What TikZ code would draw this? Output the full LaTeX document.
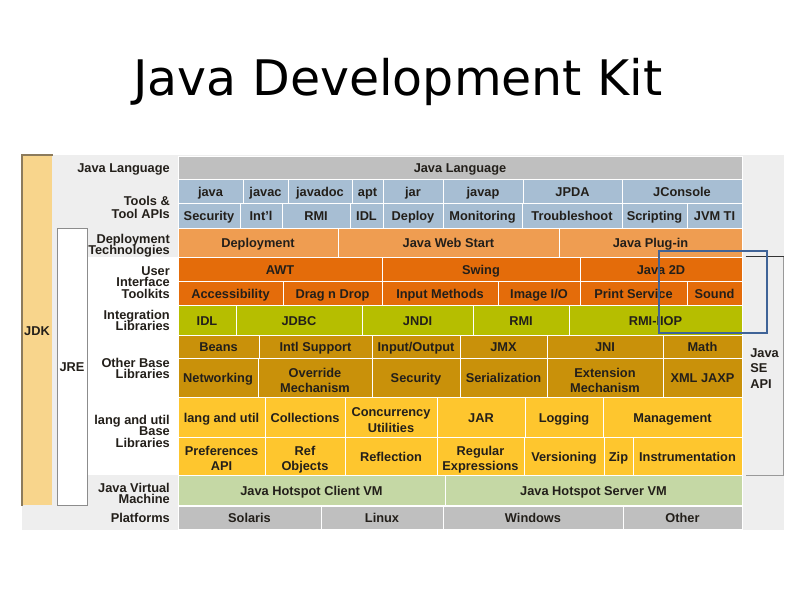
\documentclass[tikz,border=0pt]{standalone}
\usepackage{fontspec}
\setmainfont{Liberation Sans}
\newfontfamily\titlefont{DejaVu Sans}
\lineskiplimit=-20pt

\definecolor{ink}{HTML}{231F1A}
\definecolor{panel}{HTML}{EEEEEE}
\definecolor{langgrey}{HTML}{BFBFBF}
\definecolor{tools}{HTML}{A7BED3}
\definecolor{deploy}{HTML}{EF9D51}
\definecolor{uikit}{HTML}{E46C0A}
\definecolor{integ}{HTML}{B6BE00}
\definecolor{other}{HTML}{C9910A}
\definecolor{base}{HTML}{FEC62E}
\definecolor{jvm}{HTML}{C5D8A5}
\definecolor{jdk}{HTML}{F8D58C}
\definecolor{jdkline}{HTML}{8C7B5C}
\definecolor{markblue}{HTML}{3F6397}

\tikzset{
  cell/.style={draw=white, line width=1pt, inner sep=0pt, text=ink, align=center,
    font=\bfseries\fontsize{12.8}{15.5}\selectfont,
    execute at begin node={\rule[-3.5pt]{0pt}{17.8pt}}},
  lbl/.style={anchor=east, align=right, inner sep=0pt, text=ink,
    font=\bfseries\fontsize{12.8}{11.5}\selectfont,
    execute at begin node={\rule[-3.5pt]{0pt}{17.8pt}}},
}

\begin{document}
\begin{tikzpicture}[x=1pt,y=-1pt]
  \useasboundingbox (0,0) rectangle (800,600);
  \node[font=\titlefont\fontsize{49}{58}\selectfont, anchor=base] (title) at (398,95) {Java Development Kit};

  % background
  \fill[panel] (22,155) rectangle (784,530);
  \fill[white] (87,257) rectangle (178,475);

  % JDK and JRE columns
  \node[cell, draw=none, fill=jdk, minimum width=30pt, minimum height=350pt] (jdk) at (37,330) {JDK};
  \draw[jdkline, line width=2pt] (jdk.south west) -- (jdk.north west) -- (jdk.north east);
  \node[cell, draw=black!45, line width=0.8pt, fill=white, minimum width=30pt, minimum height=277pt] (jre) at (72,366.5) {JRE};

  % Java SE API
  \node[cell, draw=none, align=left, minimum width=37pt, minimum height=218pt] (seapi) at (764.5,366) {\rule{0pt}{17.3pt}Java\\SE\\API};
  \draw[black!80, line width=1.5pt] (seapi.north west) -- (seapi.north east);
  \draw[black!40, line width=0.8pt] (seapi.north east) -- (seapi.south east) -- (seapi.south west);

  % row labels
  \node[lbl] (lblLang) at (170,167.2) {Java Language};
  \node[lbl] (lblTools) at (170,208.8) {Tools \&\\[1.5pt]Tool APIs};
  \node[lbl] (lblDeploy) at (170,246.3) {Deployment\\Technologies};
  \node[lbl] (lblUI) at (170,284.3) {User\\Interface\\Toolkits};
  \node[lbl] (lblInteg) at (170,322) {Integration\\Libraries};
  \node[lbl] (lblOther) at (170,370) {Other Base\\Libraries};
  \node[lbl] (lblBase) at (170,433) {lang and util\\Base\\Libraries};
  \node[lbl] (lblJVM) at (170,495) {Java Virtual\\Machine};
  \node[lbl] (lblPlat) at (170,517.2) {Platforms};

  % java language
  \node[cell, fill=langgrey, minimum width=564pt, minimum height=23pt] (javalang) at (460,167.5) {Java Language};

  % tools
  \foreach \a/\b/\n/\t in {178/243/java/java, 243/288/javac/javac, 288/352/javadoc/javadoc, 352/383/apt/apt,
      383/443/jar/jar, 443/523/javap/javap, 523/622/jpda/JPDA, 622/742/jconsole/JConsole}
    \node[cell, fill=tools, minimum width={(\b-\a)*1pt}, minimum height=24pt] (\n) at ({(\a+\b)/2},191) {\t};
  \foreach \a/\b/\n/\t in {178/240/security/Security, 240/282/intl/Int'l, 282/350/rmitool/RMI, 350/383/idltool/IDL,
      383/443/deploytool/Deploy, 443/522/monitor/Monitoring, 522/622/trouble/Troubleshoot,
      622/687/script/Scripting, 687/742/jvmti/{JVM TI}}
    \node[cell, fill=tools, minimum width={(\b-\a)*1pt}, minimum height=25pt] (\n) at ({(\a+\b)/2},215.5) {\t};

  % deployment
  \foreach \a/\b/\n/\t in {178/338/deployment/Deployment, 338/559/webstart/{Java Web Start}, 559/742/plugin/{Java Plug-in}}
    \node[cell, fill=deploy, minimum width={(\b-\a)*1pt}, minimum height=29pt] (\n) at ({(\a+\b)/2},242.5) {\t};

  % user interface toolkits
  \foreach \a/\b/\n/\t in {178/382/awt/AWT, 382/580/swing/Swing, 580/742/java2d/{Java 2D}}
    \node[cell, fill=uikit, minimum width={(\b-\a)*1pt}, minimum height=24pt] (\n) at ({(\a+\b)/2},269) {\t};
  \foreach \a/\b/\n/\t in {178/283/access/Accessibility, 283/382/dnd/{Drag n Drop}, 382/498/inputm/{Input Methods},
      498/580/imageio/{Image I/O}, 580/687/print/{Print Service}, 687/742/sound/Sound}
    \node[cell, fill=uikit, minimum width={(\b-\a)*1pt}, minimum height=24pt] (\n) at ({(\a+\b)/2},293) {\t};

  % integration
  \foreach \a/\b/\n/\t in {178/236/idl/IDL, 236/362/jdbc/JDBC, 362/473/jndi/JNDI, 473/569/rmi/RMI, 569/742/rmiiiop/RMI-IIOP}
    \node[cell, fill=integ, minimum width={(\b-\a)*1pt}, minimum height=30pt] (\n) at ({(\a+\b)/2},320) {\t};

  % other base
  \foreach \a/\b/\n/\t in {178/259/beans/Beans, 259/372/intlsup/{Intl Support}, 372/460/io/{Input/Output},
      460/547/jmx/JMX, 547/663/jni/JNI, 663/742/math/Math}
    \node[cell, fill=other, minimum width={(\b-\a)*1pt}, minimum height=23pt] (\n) at ({(\a+\b)/2},346.5) {\t};
  \foreach \a/\b/\n/\t in {178/258/network/Networking, 258/372/override/{\rule{0pt}{18.8pt}Override\\Mechanism},
      372/460/secbase/Security, 460/547/serial/Serialization,
      547/663/extension/{\rule{0pt}{18.8pt}Extension\\Mechanism}, 663/742/xml/{XML JAXP}}
    \node[cell, fill=other, minimum width={(\b-\a)*1pt}, minimum height=39pt] (\n) at ({(\a+\b)/2},377.5) {\t};

  % lang and util
  \foreach \a/\b/\n/\t in {178/265/langutil/{lang and util}, 265/345/collect/Collections,
      345/437/concur/{\rule{0pt}{18.3pt}Concurrency\\Utilities},
      437/525/jarbase/JAR, 525/603/logging/Logging, 603/742/mgmt/Management}
    \node[cell, fill=base, minimum width={(\b-\a)*1pt}, minimum height=40pt] (\n) at ({(\a+\b)/2},417) {\t};
  \foreach \a/\b/\n/\t in {178/265/prefs/{\rule{0pt}{17.3pt}Preferences\\API}, 265/345/refobj/{\rule{0pt}{17.3pt}Ref\\Objects},
      345/437/reflect/Reflection, 437/524/regex/{\rule{0pt}{17.3pt}Regular\\Expressions},
      524/604/version/Versioning, 604/633/zip/Zip, 633/742/instr/Instrumentation}
    \node[cell, fill=base, minimum width={(\b-\a)*1pt}, minimum height=38pt] (\n) at ({(\a+\b)/2},456) {\t};

  % jvm
  \foreach \a/\b/\n/\t in {178/445/client/{Java Hotspot Client VM}, 445/742/server/{Java Hotspot Server VM}}
    \node[cell, fill=jvm, minimum width={(\b-\a)*1pt}, minimum height=30pt] (\n) at ({(\a+\b)/2},490) {\t};

  % platforms
  \foreach \a/\b/\n/\t in {178/321/solaris/Solaris, 321/443/linux/Linux, 443/623/windows/Windows, 623/742/other/Other}
    \node[cell, fill=langgrey, minimum width={(\b-\a)*1pt}, minimum height=23pt] (\n) at ({(\a+\b)/2},517.5) {\t};

  % highlight
  \draw[markblue, line width=2pt] (659,251) rectangle (767,333);
\end{tikzpicture}
\end{document}
